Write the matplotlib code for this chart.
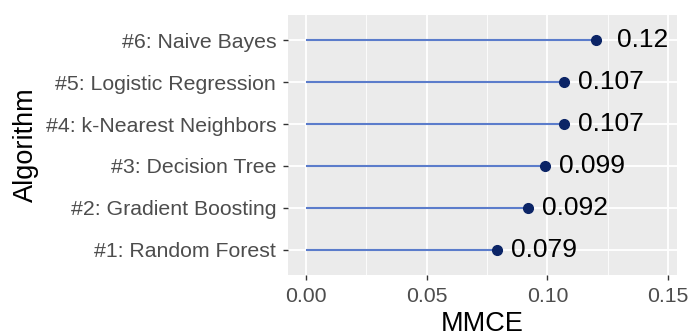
import matplotlib.pyplot as plt
from matplotlib.ticker import MultipleLocator

# data
algorithms = ["#1: Random Forest", "#2: Gradient Boosting", "#3: Decision Tree",
              "#4: k-Nearest Neighbors", "#5: Logistic Regression", "#6: Naive Bayes"]
mmce = [0.079, 0.092, 0.099, 0.107, 0.107, 0.12]
mmce_labels = ["0.079", "0.092", "0.099", "0.107", "0.107", "0.12"]
x_ticks = [0.00, 0.05, 0.10, 0.15]

plt.rcParams['font.family'] = ['Liberation Sans', 'DejaVu Sans']

fig = plt.figure(figsize=(6.89, 3.36), dpi=100)
ax = fig.add_axes([288 / 689, 1 - 275 / 336, (677 - 288) / 689, (275 - 15) / 336])
ax.set_facecolor('#EBEBEB')

ypos = list(range(len(algorithms)))
ax.hlines(ypos, 0, mmce, color='#5B7CCB', linewidth=1.5, zorder=3)
ax.plot(mmce, ypos, 'o', color='#0B2466', markersize=7, zorder=4)
for y, v, lab in zip(ypos, mmce, mmce_labels):
    ax.text(v + 0.0195, y, lab, ha='center', va='center', fontsize=19, color='black', zorder=5)

ax.set_xlim(-0.0075, 0.1537)
ax.set_ylim(-0.6, len(algorithms) - 0.4)
ax.set_xticks(x_ticks)
ax.set_xticklabels(["%.2f" % t for t in x_ticks])
ax.xaxis.set_minor_locator(MultipleLocator(0.025))
ax.set_yticks(ypos)
ax.set_yticklabels(algorithms)

ax.grid(which='major', color='white', linewidth=1.3, zorder=1)
ax.grid(which='minor', axis='x', color='white', linewidth=0.6, zorder=1)
ax.set_axisbelow(True)
for s in ax.spines.values():
    s.set_visible(False)

ax.tick_params(axis='both', which='major', length=3.5, width=1, color='#333333',
               labelcolor='#4D4D4D', labelsize=15.3)
ax.tick_params(axis='y', which='major', pad=5)
ax.tick_params(axis='x', which='major', pad=5.5)
ax.tick_params(axis='both', which='minor', length=0)

ax.set_xlabel("MMCE", fontsize=19.5, color='black', labelpad=3.5)
ax.set_ylabel("Algorithm", fontsize=19.5, color='black', labelpad=5)

fig.savefig("out.png", dpi=100)
